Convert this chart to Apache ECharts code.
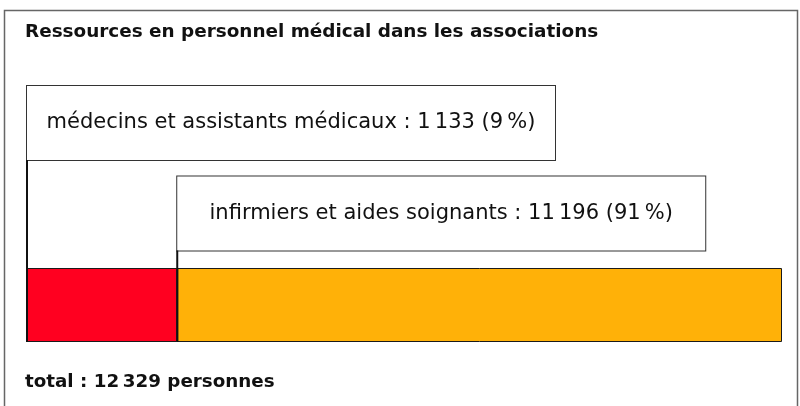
<!DOCTYPE html>
<html lang="fr">
<head>
<meta charset="utf-8">
<title>Ressources en personnel médical dans les associations</title>
<script src="https://cdn.jsdelivr.net/npm/echarts@6/dist/echarts.min.js"></script>
<style>
  html, body { margin: 0; padding: 0; background: #fff; }
  #chart { width: 800px; height: 406px; }
</style>
</head>
<body>
<div id="chart"></div>
<script>
// Barre empilée "personnel médical" — deux segments + étiquettes encadrées.

const TITLE = 'Ressources en personnel médical dans les associations';
const CATEGORIES = ['médecins et assistants médicaux', 'infirmiers et aides soignants'];
const COUNTS = [1133, 11196];
const SHARES = [9, 91];
// L'original ne dessine pas la barre à l'échelle : largeurs (en %)
const DRAWN_SHARE = [19.9, 80.1];
const COLORS = ['#ff0020', '#ffb108'];

const FONT = '"DejaVu Sans", "Liberation Sans", Arial, sans-serif';
const NNBSP = '\u202F';

function fmt(n) {
  return String(n).replace(/\B(?=(\d{3})+(?!\d))/g, NNBSP);
}

const total = COUNTS.reduce((a, b) => a + b, 0);

const chart = echarts.init(document.getElementById('chart'), null, { renderer: 'canvas' });

// Boîtes d'étiquettes : position relative au coin haut-gauche du segment
const BOX_W = 528;
const BOX_H = 74;
const BOX_OFFSET_Y = [-145, -54.5];

const series = CATEGORIES.map((name, i) => ({
  name,
  type: 'bar',
  stack: 'total',
  barWidth: '100%',
  data: [DRAWN_SHARE[i]],
  itemStyle: { color: COLORS[i], borderColor: '#1a1a1a', borderWidth: 1 },
  label: {
    show: true,
    position: [BOX_W / 2, BOX_OFFSET_Y[i]],
    align: 'center',
    verticalAlign: 'middle',
    width: BOX_W,
    height: BOX_H,
    lineHeight: BOX_H,
    backgroundColor: '#fff',
    borderColor: '#333',
    borderWidth: 1,
    color: '#111',
    fontFamily: FONT,
    fontSize: 21,
    formatter: () => `${name} : ${fmt(COUNTS[i])} (${SHARES[i]}${NNBSP}%)`,
  },
  emphasis: { disabled: true },
  silent: true,
}));

chart.setOption({
  animation: false,
  backgroundColor: '#fff',
  title: [
    {
      text: TITLE,
      left: 25,
      top: 23.5,
      padding: 0,
      textStyle: { fontFamily: FONT, fontSize: 18.4, fontWeight: 'bold', color: '#111' },
    },
    {
      text: `total : ${fmt(total)} personnes`,
      left: 25,
      top: 373,
      padding: 0,
      textStyle: { fontFamily: FONT, fontSize: 18.3, fontWeight: 'bold', color: '#111' },
    },
  ],
  grid: { left: 27, right: 18, top: 268, height: 74, containLabel: false },
  xAxis: { type: 'value', min: 0, max: 100, show: false },
  yAxis: { type: 'category', data: ['personnel'], show: false },
  series,
});

// Cadre extérieur + traits verticaux reliant chaque boîte au début de son segment
function drawConnectors() {
  const elements = [
    {
      type: 'rect',
      shape: { x: 4.5, y: 10.5, width: 793, height: 410 },
      style: { fill: 'none', stroke: '#666', lineWidth: 1.5 },
      silent: true,
    },
  ];
  let start = 0;
  CATEGORIES.forEach((name, i) => {
    const p = chart.convertToPixel({ gridIndex: 0 }, [start, 'personnel']);
    const barTop = p[1] - 37;
    const boxBottom = barTop + BOX_OFFSET_Y[i] + BOX_H / 2;
    elements.push({
      type: 'line',
      shape: { x1: p[0], y1: boxBottom, x2: p[0], y2: barTop + 74 },
      style: { stroke: '#111', lineWidth: 2 },
      silent: true,
      z: 10,
    });
    start += DRAWN_SHARE[i];
  });
  chart.setOption({ graphic: { elements } });
}

drawConnectors();
</script>
</body>
</html>
